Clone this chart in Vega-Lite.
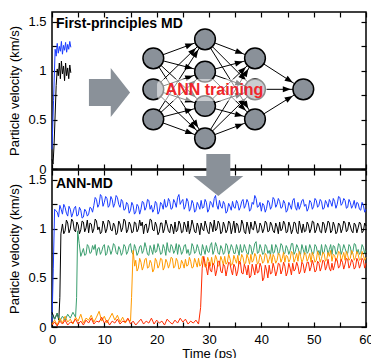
{
"$schema":"https://vega.github.io/schema/vega-lite/v6.json",
"padding":{"left":8,"top":10,"right":0,"bottom":0},
"bounds":"flush",
"spacing":1,
"config":{
 "view":{"stroke":"black","strokeWidth":1.5},
 "axis":{"labelFont":"Liberation Sans","labelFontSize":13,"titleFont":"Liberation Sans","titleFontSize":13,"titleFontWeight":"normal","labelColor":"black","titleColor":"black","tickColor":"black","tickWidth":1.2,"grid":false,"domain":false,"labelFlush":false,"labelOverlap":false},
 "text":{"font":"Liberation Sans"}
},
"datasets":{
"fp":[
{"s":"a","t":0,"v":0.2},{"s":"a","t":0.3,"v":0.7},{"s":"a","t":0.6,"v":1.22},{"s":"a","t":0.8,"v":1.15},{"s":"a","t":1.0,"v":1.28},{"s":"a","t":1.2,"v":1.18},{"s":"a","t":1.4,"v":1.25},{"s":"a","t":1.6,"v":1.2},{"s":"a","t":1.8,"v":1.3},{"s":"a","t":2.0,"v":1.17},{"s":"a","t":2.2,"v":1.26},{"s":"a","t":2.4,"v":1.21},{"s":"a","t":2.6,"v":1.29},{"s":"a","t":2.8,"v":1.19},{"s":"a","t":3.0,"v":1.27},{"s":"a","t":3.2,"v":1.22},{"s":"a","t":3.4,"v":1.3},{"s":"a","t":3.6,"v":1.24},
{"s":"b","t":0,"v":0.1},{"s":"b","t":0.2,"v":0.05},{"s":"b","t":0.4,"v":0.25},{"s":"b","t":0.6,"v":0.55},{"s":"b","t":0.8,"v":0.85},{"s":"b","t":1.0,"v":1.02},{"s":"b","t":1.2,"v":0.95},{"s":"b","t":1.4,"v":1.08},{"s":"b","t":1.6,"v":0.92},{"s":"b","t":1.8,"v":1.1},{"s":"b","t":2.0,"v":0.97},{"s":"b","t":2.2,"v":1.05},{"s":"b","t":2.4,"v":0.9},{"s":"b","t":2.6,"v":1.08},{"s":"b","t":2.8,"v":0.95},{"s":"b","t":3.0,"v":1.03},{"s":"b","t":3.2,"v":0.92},{"s":"b","t":3.4,"v":1.06},{"s":"b","t":3.6,"v":0.98}
],
"ann":[
{"s":"a","t":0,"v":0.05},{"s":"a","t":0.25,"v":0.6},{"s":"a","t":0.5,"v":1.2},{"s":"a","t":1,"v":1.17},{"s":"a","t":1.5,"v":1.24},{"s":"a","t":2,"v":1.15},{"s":"a","t":2.5,"v":1.22},{"s":"a","t":3,"v":1.13},{"s":"a","t":3.5,"v":1.2},{"s":"a","t":4,"v":1.16},{"s":"a","t":4.5,"v":1.23},{"s":"a","t":5,"v":1.14},{"s":"a","t":5.5,"v":1.19},{"s":"a","t":6,"v":1.12},{"s":"a","t":6.5,"v":1.18},{"s":"a","t":7,"v":1.15},{"s":"a","t":7.5,"v":1.21},{"s":"a","t":8,"v":1.24},{"s":"a","t":8.5,"v":1.3},{"s":"a","t":9,"v":1.25},{"s":"a","t":9.5,"v":1.33},{"s":"a","t":10,"v":1.27},{"s":"a","t":10.5,"v":1.31},{"s":"a","t":11,"v":1.24},{"s":"a","t":11.5,"v":1.3},{"s":"a","t":12,"v":1.26},{"s":"a","t":12.5,"v":1.32},{"s":"a","t":13,"v":1.22},{"s":"a","t":13.5,"v":1.28},{"s":"a","t":14,"v":1.2},{"s":"a","t":14.5,"v":1.25},{"s":"a","t":15,"v":1.19},{"s":"a","t":15.5,"v":1.24},{"s":"a","t":16,"v":1.17},{"s":"a","t":16.5,"v":1.23},{"s":"a","t":17,"v":1.2},{"s":"a","t":17.5,"v":1.27},{"s":"a","t":18,"v":1.22},{"s":"a","t":18.5,"v":1.29},{"s":"a","t":19,"v":1.24},{"s":"a","t":19.5,"v":1.2},{"s":"a","t":20,"v":1.26},{"s":"a","t":20.5,"v":1.18},{"s":"a","t":21,"v":1.25},{"s":"a","t":21.5,"v":1.3},{"s":"a","t":22,"v":1.23},{"s":"a","t":22.5,"v":1.28},{"s":"a","t":23,"v":1.21},{"s":"a","t":23.5,"v":1.27},{"s":"a","t":24,"v":1.32},{"s":"a","t":24.5,"v":1.25},{"s":"a","t":25,"v":1.3},{"s":"a","t":25.5,"v":1.23},{"s":"a","t":26,"v":1.28},{"s":"a","t":26.5,"v":1.21},{"s":"a","t":27,"v":1.26},{"s":"a","t":27.5,"v":1.19},{"s":"a","t":28,"v":1.24},{"s":"a","t":28.5,"v":1.29},{"s":"a","t":29,"v":1.22},{"s":"a","t":29.5,"v":1.27},{"s":"a","t":30,"v":1.2},{"s":"a","t":30.5,"v":1.26},{"s":"a","t":31,"v":1.31},{"s":"a","t":31.5,"v":1.24},{"s":"a","t":32,"v":1.29},{"s":"a","t":32.5,"v":1.21},{"s":"a","t":33,"v":1.25},{"s":"a","t":33.5,"v":1.18},{"s":"a","t":34,"v":1.23},{"s":"a","t":34.5,"v":1.28},{"s":"a","t":35,"v":1.21},{"s":"a","t":35.5,"v":1.26},{"s":"a","t":36,"v":1.22},{"s":"a","t":36.5,"v":1.3},{"s":"a","t":37,"v":1.24},{"s":"a","t":37.5,"v":1.27},{"s":"a","t":38,"v":1.2},{"s":"a","t":38.5,"v":1.25},{"s":"a","t":39,"v":1.31},{"s":"a","t":39.5,"v":1.23},{"s":"a","t":40,"v":1.18},{"s":"a","t":40.5,"v":1.24},{"s":"a","t":41,"v":1.21},{"s":"a","t":41.5,"v":1.27},{"s":"a","t":42,"v":1.23},{"s":"a","t":42.5,"v":1.3},{"s":"a","t":43,"v":1.25},{"s":"a","t":43.5,"v":1.28},{"s":"a","t":44,"v":1.22},{"s":"a","t":44.5,"v":1.26},{"s":"a","t":45,"v":1.19},{"s":"a","t":45.5,"v":1.24},{"s":"a","t":46,"v":1.29},{"s":"a","t":46.5,"v":1.22},{"s":"a","t":47,"v":1.27},{"s":"a","t":47.5,"v":1.24},{"s":"a","t":48,"v":1.3},{"s":"a","t":48.5,"v":1.25},{"s":"a","t":49,"v":1.21},{"s":"a","t":49.5,"v":1.27},{"s":"a","t":50,"v":1.23},{"s":"a","t":50.5,"v":1.29},{"s":"a","t":51,"v":1.24},{"s":"a","t":51.5,"v":1.28},{"s":"a","t":52,"v":1.21},{"s":"a","t":52.5,"v":1.26},{"s":"a","t":53,"v":1.3},{"s":"a","t":53.5,"v":1.23},{"s":"a","t":54,"v":1.28},{"s":"a","t":54.5,"v":1.25},{"s":"a","t":55,"v":1.32},{"s":"a","t":55.5,"v":1.26},{"s":"a","t":56,"v":1.29},{"s":"a","t":56.5,"v":1.22},{"s":"a","t":57,"v":1.27},{"s":"a","t":57.5,"v":1.24},{"s":"a","t":58,"v":1.21},{"s":"a","t":58.5,"v":1.26},{"s":"a","t":59,"v":1.19},{"s":"a","t":59.5,"v":1.24},{"s":"a","t":60,"v":1.2},
{"s":"b","t":0,"v":0.15},{"s":"b","t":0.5,"v":0.08},{"s":"b","t":1,"v":0.14},{"s":"b","t":1.3,"v":0.07},{"s":"b","t":1.5,"v":0.3},{"s":"b","t":1.7,"v":0.95},{"s":"b","t":2,"v":1.05},{"s":"b","t":2.5,"v":0.98},{"s":"b","t":3,"v":1.06},{"s":"b","t":3.5,"v":1.0},{"s":"b","t":4,"v":1.08},{"s":"b","t":4.5,"v":0.97},{"s":"b","t":5,"v":1.04},{"s":"b","t":5.5,"v":0.99},{"s":"b","t":6,"v":1.07},{"s":"b","t":6.5,"v":1.01},{"s":"b","t":7,"v":0.96},{"s":"b","t":7.5,"v":1.05},{"s":"b","t":8,"v":1.0},{"s":"b","t":8.5,"v":1.08},{"s":"b","t":9,"v":1.02},{"s":"b","t":9.5,"v":0.97},{"s":"b","t":10,"v":1.04},{"s":"b","t":10.5,"v":1.0},{"s":"b","t":11,"v":1.07},{"s":"b","t":11.5,"v":0.98},{"s":"b","t":12,"v":1.03},{"s":"b","t":12.5,"v":0.96},{"s":"b","t":13,"v":1.05},{"s":"b","t":13.5,"v":1.01},{"s":"b","t":14,"v":1.08},{"s":"b","t":14.5,"v":0.99},{"s":"b","t":15,"v":1.04},{"s":"b","t":15.5,"v":0.97},{"s":"b","t":16,"v":1.06},{"s":"b","t":16.5,"v":1.0},{"s":"b","t":17,"v":1.03},{"s":"b","t":17.5,"v":0.95},{"s":"b","t":18,"v":1.05},{"s":"b","t":18.5,"v":1.01},{"s":"b","t":19,"v":1.09},{"s":"b","t":19.5,"v":0.98},{"s":"b","t":20,"v":1.03},{"s":"b","t":20.5,"v":0.97},{"s":"b","t":21,"v":1.06},{"s":"b","t":21.5,"v":1.0},{"s":"b","t":22,"v":1.04},{"s":"b","t":22.5,"v":0.96},{"s":"b","t":23,"v":1.02},{"s":"b","t":23.5,"v":1.07},{"s":"b","t":24,"v":0.99},{"s":"b","t":24.5,"v":1.05},{"s":"b","t":25,"v":0.97},{"s":"b","t":25.5,"v":1.03},{"s":"b","t":26,"v":1.08},{"s":"b","t":26.5,"v":1.0},{"s":"b","t":27,"v":1.04},{"s":"b","t":27.5,"v":0.96},{"s":"b","t":28,"v":1.02},{"s":"b","t":28.5,"v":1.06},{"s":"b","t":29,"v":0.98},{"s":"b","t":29.5,"v":1.03},{"s":"b","t":30,"v":0.95},{"s":"b","t":30.5,"v":1.04},{"s":"b","t":31,"v":1.09},{"s":"b","t":31.5,"v":1.0},{"s":"b","t":32,"v":1.05},{"s":"b","t":32.5,"v":0.97},{"s":"b","t":33,"v":1.03},{"s":"b","t":33.5,"v":0.99},{"s":"b","t":34,"v":1.06},{"s":"b","t":34.5,"v":1.01},{"s":"b","t":35,"v":0.96},{"s":"b","t":35.5,"v":1.04},{"s":"b","t":36,"v":0.98},{"s":"b","t":36.5,"v":1.05},{"s":"b","t":37,"v":0.95},{"s":"b","t":37.5,"v":1.02},{"s":"b","t":38,"v":1.07},{"s":"b","t":38.5,"v":0.99},{"s":"b","t":39,"v":1.04},{"s":"b","t":39.5,"v":0.97},{"s":"b","t":40,"v":1.03},{"s":"b","t":40.5,"v":1.0},{"s":"b","t":41,"v":1.06},{"s":"b","t":41.5,"v":0.98},{"s":"b","t":42,"v":1.04},{"s":"b","t":42.5,"v":0.96},{"s":"b","t":43,"v":1.02},{"s":"b","t":43.5,"v":1.07},{"s":"b","t":44,"v":1.0},{"s":"b","t":44.5,"v":1.05},{"s":"b","t":45,"v":0.97},{"s":"b","t":45.5,"v":1.03},{"s":"b","t":46,"v":0.99},{"s":"b","t":46.5,"v":1.06},{"s":"b","t":47,"v":0.95},{"s":"b","t":47.5,"v":1.02},{"s":"b","t":48,"v":1.05},{"s":"b","t":48.5,"v":0.98},{"s":"b","t":49,"v":1.04},{"s":"b","t":49.5,"v":1.0},{"s":"b","t":50,"v":1.07},{"s":"b","t":50.5,"v":0.99},{"s":"b","t":51,"v":1.03},{"s":"b","t":51.5,"v":0.96},{"s":"b","t":52,"v":1.05},{"s":"b","t":52.5,"v":1.01},{"s":"b","t":53,"v":1.06},{"s":"b","t":53.5,"v":0.98},{"s":"b","t":54,"v":1.03},{"s":"b","t":54.5,"v":0.97},{"s":"b","t":55,"v":1.04},{"s":"b","t":55.5,"v":1.0},{"s":"b","t":56,"v":1.06},{"s":"b","t":56.5,"v":0.99},{"s":"b","t":57,"v":1.03},{"s":"b","t":57.5,"v":0.96},{"s":"b","t":58,"v":1.04},{"s":"b","t":58.5,"v":1.01},{"s":"b","t":59,"v":1.05},{"s":"b","t":59.5,"v":0.98},{"s":"b","t":60,"v":1.03},
{"s":"c","t":0,"v":0.12},{"s":"c","t":0.5,"v":0.08},{"s":"c","t":1,"v":0.14},{"s":"c","t":1.5,"v":0.06},{"s":"c","t":2,"v":0.11},{"s":"c","t":2.5,"v":0.07},{"s":"c","t":3,"v":0.13},{"s":"c","t":3.5,"v":0.09},{"s":"c","t":4,"v":0.15},{"s":"c","t":4.5,"v":0.1},{"s":"c","t":4.7,"v":0.3},{"s":"c","t":4.9,"v":0.98},{"s":"c","t":5.2,"v":0.85},{"s":"c","t":5.5,"v":0.72},{"s":"c","t":6,"v":0.8},{"s":"c","t":6.5,"v":0.74},{"s":"c","t":7,"v":0.82},{"s":"c","t":7.5,"v":0.76},{"s":"c","t":8,"v":0.79},{"s":"c","t":8.5,"v":0.73},{"s":"c","t":9,"v":0.81},{"s":"c","t":9.5,"v":0.77},{"s":"c","t":10,"v":0.84},{"s":"c","t":10.5,"v":0.75},{"s":"c","t":11,"v":0.8},{"s":"c","t":11.5,"v":0.78},{"s":"c","t":12,"v":0.83},{"s":"c","t":12.5,"v":0.74},{"s":"c","t":13,"v":0.79},{"s":"c","t":13.5,"v":0.76},{"s":"c","t":14,"v":0.82},{"s":"c","t":14.5,"v":0.77},{"s":"c","t":15,"v":0.85},{"s":"c","t":15.5,"v":0.74},{"s":"c","t":16,"v":0.8},{"s":"c","t":16.5,"v":0.76},{"s":"c","t":17,"v":0.83},{"s":"c","t":17.5,"v":0.78},{"s":"c","t":18,"v":0.81},{"s":"c","t":18.5,"v":0.73},{"s":"c","t":19,"v":0.79},{"s":"c","t":19.5,"v":0.84},{"s":"c","t":20,"v":0.77},{"s":"c","t":20.5,"v":0.81},{"s":"c","t":21,"v":0.75},{"s":"c","t":21.5,"v":0.8},{"s":"c","t":22,"v":0.86},{"s":"c","t":22.5,"v":0.76},{"s":"c","t":23,"v":0.82},{"s":"c","t":23.5,"v":0.78},{"s":"c","t":24,"v":0.74},{"s":"c","t":24.5,"v":0.81},{"s":"c","t":25,"v":0.77},{"s":"c","t":25.5,"v":0.84},{"s":"c","t":26,"v":0.79},{"s":"c","t":26.5,"v":0.75},{"s":"c","t":27,"v":0.82},{"s":"c","t":27.5,"v":0.77},{"s":"c","t":28,"v":0.8},{"s":"c","t":28.5,"v":0.73},{"s":"c","t":29,"v":0.79},{"s":"c","t":29.5,"v":0.83},{"s":"c","t":30,"v":0.76},{"s":"c","t":30.5,"v":0.86},{"s":"c","t":31,"v":0.78},{"s":"c","t":31.5,"v":0.82},{"s":"c","t":32,"v":0.74},{"s":"c","t":32.5,"v":0.8},{"s":"c","t":33,"v":0.76},{"s":"c","t":33.5,"v":0.83},{"s":"c","t":34,"v":0.78},{"s":"c","t":34.5,"v":0.81},{"s":"c","t":35,"v":0.75},{"s":"c","t":35.5,"v":0.79},{"s":"c","t":36,"v":0.84},{"s":"c","t":36.5,"v":0.77},{"s":"c","t":37,"v":0.8},{"s":"c","t":37.5,"v":0.74},{"s":"c","t":38,"v":0.82},{"s":"c","t":38.5,"v":0.78},{"s":"c","t":39,"v":0.87},{"s":"c","t":39.5,"v":0.76},{"s":"c","t":40,"v":0.8},{"s":"c","t":40.5,"v":0.75},{"s":"c","t":41,"v":0.82},{"s":"c","t":41.5,"v":0.78},{"s":"c","t":42,"v":0.84},{"s":"c","t":42.5,"v":0.76},{"s":"c","t":43,"v":0.81},{"s":"c","t":43.5,"v":0.77},{"s":"c","t":44,"v":0.83},{"s":"c","t":44.5,"v":0.75},{"s":"c","t":45,"v":0.8},{"s":"c","t":45.5,"v":0.78},{"s":"c","t":46,"v":0.85},{"s":"c","t":46.5,"v":0.77},{"s":"c","t":47,"v":0.81},{"s":"c","t":47.5,"v":0.74},{"s":"c","t":48,"v":0.79},{"s":"c","t":48.5,"v":0.83},{"s":"c","t":49,"v":0.77},{"s":"c","t":49.5,"v":0.8},{"s":"c","t":50,"v":0.75},{"s":"c","t":50.5,"v":0.82},{"s":"c","t":51,"v":0.78},{"s":"c","t":51.5,"v":0.84},{"s":"c","t":52,"v":0.76},{"s":"c","t":52.5,"v":0.81},{"s":"c","t":53,"v":0.79},{"s":"c","t":53.5,"v":0.74},{"s":"c","t":54,"v":0.82},{"s":"c","t":54.5,"v":0.77},{"s":"c","t":55,"v":0.83},{"s":"c","t":55.5,"v":0.78},{"s":"c","t":56,"v":0.8},{"s":"c","t":56.5,"v":0.75},{"s":"c","t":57,"v":0.82},{"s":"c","t":57.5,"v":0.77},{"s":"c","t":58,"v":0.84},{"s":"c","t":58.5,"v":0.79},{"s":"c","t":59,"v":0.76},{"s":"c","t":59.5,"v":0.81},{"s":"c","t":60,"v":0.78},
{"s":"d","t":0,"v":0.03},{"s":"d","t":0.5,"v":0.07},{"s":"d","t":1,"v":0.02},{"s":"d","t":1.5,"v":0.09},{"s":"d","t":2,"v":0.04},{"s":"d","t":2.5,"v":0.11},{"s":"d","t":3,"v":0.05},{"s":"d","t":3.5,"v":0.08},{"s":"d","t":4,"v":0.03},{"s":"d","t":4.5,"v":0.1},{"s":"d","t":5,"v":0.06},{"s":"d","t":5.5,"v":0.13},{"s":"d","t":6,"v":0.04},{"s":"d","t":6.5,"v":0.09},{"s":"d","t":7,"v":0.07},{"s":"d","t":7.5,"v":0.12},{"s":"d","t":8,"v":0.05},{"s":"d","t":8.5,"v":0.1},{"s":"d","t":9,"v":0.16},{"s":"d","t":9.5,"v":0.06},{"s":"d","t":10,"v":0.11},{"s":"d","t":10.5,"v":0.04},{"s":"d","t":11,"v":0.09},{"s":"d","t":11.5,"v":0.14},{"s":"d","t":12,"v":0.07},{"s":"d","t":12.5,"v":0.12},{"s":"d","t":13,"v":0.05},{"s":"d","t":13.5,"v":0.1},{"s":"d","t":14,"v":0.04},{"s":"d","t":14.5,"v":0.08},{"s":"d","t":15,"v":0.06},{"s":"d","t":15.2,"v":0.3},{"s":"d","t":15.5,"v":0.78},{"s":"d","t":15.8,"v":0.62},{"s":"d","t":16,"v":0.68},{"s":"d","t":16.5,"v":0.6},{"s":"d","t":17,"v":0.66},{"s":"d","t":17.5,"v":0.62},{"s":"d","t":18,"v":0.7},{"s":"d","t":18.5,"v":0.61},{"s":"d","t":19,"v":0.65},{"s":"d","t":19.5,"v":0.59},{"s":"d","t":20,"v":0.67},{"s":"d","t":20.5,"v":0.63},{"s":"d","t":21,"v":0.69},{"s":"d","t":21.5,"v":0.61},{"s":"d","t":22,"v":0.66},{"s":"d","t":22.5,"v":0.64},{"s":"d","t":23,"v":0.7},{"s":"d","t":23.5,"v":0.62},{"s":"d","t":24,"v":0.67},{"s":"d","t":24.5,"v":0.6},{"s":"d","t":25,"v":0.65},{"s":"d","t":25.5,"v":0.69},{"s":"d","t":26,"v":0.63},{"s":"d","t":26.5,"v":0.67},{"s":"d","t":27,"v":0.61},{"s":"d","t":27.5,"v":0.66},{"s":"d","t":28,"v":0.7},{"s":"d","t":28.5,"v":0.64},{"s":"d","t":29,"v":0.68},{"s":"d","t":29.5,"v":0.62},{"s":"d","t":30,"v":0.67},{"s":"d","t":30.5,"v":0.71},{"s":"d","t":31,"v":0.65},{"s":"d","t":31.5,"v":0.69},{"s":"d","t":32,"v":0.63},{"s":"d","t":32.5,"v":0.68},{"s":"d","t":33,"v":0.72},{"s":"d","t":33.5,"v":0.66},{"s":"d","t":34,"v":0.7},{"s":"d","t":34.5,"v":0.64},{"s":"d","t":35,"v":0.69},{"s":"d","t":35.5,"v":0.73},{"s":"d","t":36,"v":0.67},{"s":"d","t":36.5,"v":0.71},{"s":"d","t":37,"v":0.65},{"s":"d","t":37.5,"v":0.7},{"s":"d","t":38,"v":0.74},{"s":"d","t":38.5,"v":0.68},{"s":"d","t":39,"v":0.72},{"s":"d","t":39.5,"v":0.66},{"s":"d","t":40,"v":0.71},{"s":"d","t":40.5,"v":0.67},{"s":"d","t":41,"v":0.73},{"s":"d","t":41.5,"v":0.69},{"s":"d","t":42,"v":0.65},{"s":"d","t":42.5,"v":0.71},{"s":"d","t":43,"v":0.68},{"s":"d","t":43.5,"v":0.74},{"s":"d","t":44,"v":0.7},{"s":"d","t":44.5,"v":0.66},{"s":"d","t":45,"v":0.72},{"s":"d","t":45.5,"v":0.69},{"s":"d","t":46,"v":0.75},{"s":"d","t":46.5,"v":0.7},{"s":"d","t":47,"v":0.67},{"s":"d","t":47.5,"v":0.72},{"s":"d","t":48,"v":0.69},{"s":"d","t":48.5,"v":0.74},{"s":"d","t":49,"v":0.7},{"s":"d","t":49.5,"v":0.66},{"s":"d","t":50,"v":0.72},{"s":"d","t":50.5,"v":0.68},{"s":"d","t":51,"v":0.73},{"s":"d","t":51.5,"v":0.7},{"s":"d","t":52,"v":0.75},{"s":"d","t":52.5,"v":0.69},{"s":"d","t":53,"v":0.72},{"s":"d","t":53.5,"v":0.67},{"s":"d","t":54,"v":0.73},{"s":"d","t":54.5,"v":0.7},{"s":"d","t":55,"v":0.76},{"s":"d","t":55.5,"v":0.71},{"s":"d","t":56,"v":0.68},{"s":"d","t":56.5,"v":0.73},{"s":"d","t":57,"v":0.7},{"s":"d","t":57.5,"v":0.75},{"s":"d","t":58,"v":0.71},{"s":"d","t":58.5,"v":0.74},{"s":"d","t":59,"v":0.69},{"s":"d","t":59.5,"v":0.73},{"s":"d","t":60,"v":0.71},
{"s":"e","t":0,"v":0.02},{"s":"e","t":0.5,"v":0.05},{"s":"e","t":1,"v":0.01},{"s":"e","t":1.5,"v":0.06},{"s":"e","t":2,"v":0.03},{"s":"e","t":2.5,"v":0.07},{"s":"e","t":3,"v":0.02},{"s":"e","t":3.5,"v":0.05},{"s":"e","t":4,"v":0.04},{"s":"e","t":4.5,"v":0.08},{"s":"e","t":5,"v":0.03},{"s":"e","t":5.5,"v":0.06},{"s":"e","t":6,"v":0.02},{"s":"e","t":6.5,"v":0.07},{"s":"e","t":7,"v":0.04},{"s":"e","t":7.5,"v":0.09},{"s":"e","t":8,"v":0.03},{"s":"e","t":8.5,"v":0.06},{"s":"e","t":9,"v":0.05},{"s":"e","t":9.5,"v":0.1},{"s":"e","t":10,"v":0.04},{"s":"e","t":10.5,"v":0.07},{"s":"e","t":11,"v":0.02},{"s":"e","t":11.5,"v":0.06},{"s":"e","t":12,"v":0.04},{"s":"e","t":12.5,"v":0.08},{"s":"e","t":13,"v":0.03},{"s":"e","t":13.5,"v":0.06},{"s":"e","t":14,"v":0.05},{"s":"e","t":14.5,"v":0.09},{"s":"e","t":15,"v":0.03},{"s":"e","t":15.5,"v":0.06},{"s":"e","t":16,"v":0.02},{"s":"e","t":16.5,"v":0.05},{"s":"e","t":17,"v":0.08},{"s":"e","t":17.5,"v":0.03},{"s":"e","t":18,"v":0.06},{"s":"e","t":18.5,"v":0.04},{"s":"e","t":19,"v":0.09},{"s":"e","t":19.5,"v":0.03},{"s":"e","t":20,"v":0.07},{"s":"e","t":20.5,"v":0.04},{"s":"e","t":21,"v":0.06},{"s":"e","t":21.5,"v":0.02},{"s":"e","t":22,"v":0.08},{"s":"e","t":22.5,"v":0.05},{"s":"e","t":23,"v":0.03},{"s":"e","t":23.5,"v":0.07},{"s":"e","t":24,"v":0.04},{"s":"e","t":24.5,"v":0.09},{"s":"e","t":25,"v":0.05},{"s":"e","t":25.5,"v":0.08},{"s":"e","t":26,"v":0.03},{"s":"e","t":26.5,"v":0.06},{"s":"e","t":27,"v":0.04},{"s":"e","t":27.5,"v":0.07},{"s":"e","t":28,"v":0.03},{"s":"e","t":28.4,"v":0.2},{"s":"e","t":28.7,"v":0.6},{"s":"e","t":29,"v":0.72},{"s":"e","t":29.5,"v":0.6},{"s":"e","t":30,"v":0.66},{"s":"e","t":30.5,"v":0.56},{"s":"e","t":31,"v":0.63},{"s":"e","t":31.5,"v":0.58},{"s":"e","t":32,"v":0.67},{"s":"e","t":32.5,"v":0.55},{"s":"e","t":33,"v":0.62},{"s":"e","t":33.5,"v":0.59},{"s":"e","t":34,"v":0.65},{"s":"e","t":34.5,"v":0.53},{"s":"e","t":35,"v":0.61},{"s":"e","t":35.5,"v":0.57},{"s":"e","t":36,"v":0.66},{"s":"e","t":36.5,"v":0.54},{"s":"e","t":37,"v":0.6},{"s":"e","t":37.5,"v":0.63},{"s":"e","t":38,"v":0.52},{"s":"e","t":38.5,"v":0.59},{"s":"e","t":39,"v":0.64},{"s":"e","t":39.5,"v":0.56},{"s":"e","t":40,"v":0.61},{"s":"e","t":40.5,"v":0.5},{"s":"e","t":41,"v":0.58},{"s":"e","t":41.5,"v":0.63},{"s":"e","t":42,"v":0.55},{"s":"e","t":42.5,"v":0.6},{"s":"e","t":43,"v":0.57},{"s":"e","t":43.5,"v":0.64},{"s":"e","t":44,"v":0.58},{"s":"e","t":44.5,"v":0.62},{"s":"e","t":45,"v":0.56},{"s":"e","t":45.5,"v":0.6},{"s":"e","t":46,"v":0.65},{"s":"e","t":46.5,"v":0.59},{"s":"e","t":47,"v":0.62},{"s":"e","t":47.5,"v":0.57},{"s":"e","t":48,"v":0.64},{"s":"e","t":48.5,"v":0.6},{"s":"e","t":49,"v":0.66},{"s":"e","t":49.5,"v":0.61},{"s":"e","t":50,"v":0.63},{"s":"e","t":50.5,"v":0.58},{"s":"e","t":51,"v":0.65},{"s":"e","t":51.5,"v":0.61},{"s":"e","t":52,"v":0.67},{"s":"e","t":52.5,"v":0.62},{"s":"e","t":53,"v":0.6},{"s":"e","t":53.5,"v":0.65},{"s":"e","t":54,"v":0.63},{"s":"e","t":54.5,"v":0.68},{"s":"e","t":55,"v":0.62},{"s":"e","t":55.5,"v":0.66},{"s":"e","t":56,"v":0.64},{"s":"e","t":56.5,"v":0.69},{"s":"e","t":57,"v":0.63},{"s":"e","t":57.5,"v":0.66},{"s":"e","t":58,"v":0.61},{"s":"e","t":58.5,"v":0.67},{"s":"e","t":59,"v":0.64},{"s":"e","t":59.5,"v":0.68},{"s":"e","t":60,"v":0.65},
{"s":"a","t":1.25,"v":1.12},{"s":"a","t":1.75,"v":1.2},{"s":"a","t":2.25,"v":1.25},{"s":"a","t":2.75,"v":1.16},{"s":"a","t":3.25,"v":1.23},{"s":"a","t":3.75,"v":1.12},{"s":"a","t":4.25,"v":1.21},{"s":"a","t":4.75,"v":1.13},{"s":"a","t":5.25,"v":1.22},{"s":"a","t":5.75,"v":1.11},{"s":"a","t":6.25,"v":1.2},{"s":"a","t":6.75,"v":1.13},{"s":"a","t":7.25,"v":1.22},{"s":"a","t":7.75,"v":1.17},{"s":"a","t":8.25,"v":1.32},{"s":"a","t":8.75,"v":1.22},{"s":"a","t":9.25,"v":1.35},{"s":"a","t":9.75,"v":1.23},{"s":"a","t":10.25,"v":1.33},{"s":"a","t":10.75,"v":1.22},{"s":"a","t":11.25,"v":1.33},{"s":"a","t":11.75,"v":1.22},{"s":"a","t":12.25,"v":1.34},{"s":"a","t":12.75,"v":1.25},{"s":"a","t":13.25,"v":1.3},{"s":"a","t":13.75,"v":1.19},{"s":"a","t":14.25,"v":1.27},{"s":"a","t":14.75,"v":1.16},{"s":"a","t":15.25,"v":1.27},{"s":"a","t":15.75,"v":1.15},{"s":"a","t":16.25,"v":1.25},{"s":"a","t":16.75,"v":1.15},{"s":"a","t":17.25,"v":1.28},{"s":"a","t":17.75,"v":1.19},{"s":"a","t":18.25,"v":1.3},{"s":"a","t":18.75,"v":1.2},{"s":"a","t":19.25,"v":1.17},{"s":"a","t":19.75,"v":1.28},{"s":"a","t":20.25,"v":1.15},{"s":"a","t":20.75,"v":1.27},{"s":"a","t":21.25,"v":1.2},{"s":"a","t":21.75,"v":1.22},{"s":"a","t":22.25,"v":1.31},{"s":"a","t":22.75,"v":1.2},{"s":"a","t":23.25,"v":1.3},{"s":"a","t":23.75,"v":1.22},{"s":"a","t":24.25,"v":1.35},{"s":"a","t":24.75,"v":1.28},{"s":"a","t":25.25,"v":1.2},{"s":"a","t":25.75,"v":1.31},{"s":"a","t":26.25,"v":1.18},{"s":"a","t":26.75,"v":1.29},{"s":"a","t":27.25,"v":1.17},{"s":"a","t":27.75,"v":1.27},{"s":"a","t":28.25,"v":1.2},{"s":"a","t":28.75,"v":1.21},{"s":"a","t":29.25,"v":1.3},{"s":"a","t":29.75,"v":1.17},{"s":"a","t":30.25,"v":1.28},{"s":"a","t":30.75,"v":1.22},{"s":"a","t":31.25,"v":1.34},{"s":"a","t":31.75,"v":1.2},{"s":"a","t":32.25,"v":1.23},{"s":"a","t":32.75,"v":1.28},{"s":"a","t":33.25,"v":1.16},{"s":"a","t":33.75,"v":1.26},{"s":"a","t":34.25,"v":1.19},{"s":"a","t":34.75,"v":1.22},{"s":"a","t":35.25,"v":1.29},{"s":"a","t":35.75,"v":1.19},{"s":"a","t":36.25,"v":1.28},{"s":"a","t":36.75,"v":1.21},{"s":"a","t":37.25,"v":1.3},{"s":"a","t":37.75,"v":1.18},{"s":"a","t":38.25,"v":1.27},{"s":"a","t":38.75,"v":1.34},{"s":"a","t":39.25,"v":1.22},{"s":"a","t":39.75,"v":1.27},{"s":"a","t":40.25,"v":1.26},{"s":"a","t":40.75,"v":1.17},{"s":"a","t":41.25,"v":1.29},{"s":"a","t":41.75,"v":1.2},{"s":"a","t":42.25,"v":1.32},{"s":"a","t":42.75,"v":1.22},{"s":"a","t":43.25,"v":1.31},{"s":"a","t":43.75,"v":1.21},{"s":"a","t":44.25,"v":1.29},{"s":"a","t":44.75,"v":1.17},{"s":"a","t":45.25,"v":1.27},{"s":"a","t":45.75,"v":1.2},{"s":"a","t":46.25,"v":1.31},{"s":"a","t":46.75,"v":1.19},{"s":"a","t":47.25,"v":1.2},{"s":"a","t":47.75,"v":1.29},{"s":"a","t":48.25,"v":1.23},{"s":"a","t":48.75,"v":1.18},{"s":"a","t":49.25,"v":1.29},{"s":"a","t":49.75,"v":1.2},{"s":"a","t":50.25,"v":1.31},{"s":"a","t":50.75,"v":1.22},{"s":"a","t":51.25,"v":1.3},{"s":"a","t":51.75,"v":1.2},{"s":"a","t":52.25,"v":1.29},{"s":"a","t":52.75,"v":1.22},{"s":"a","t":53.25,"v":1.27},{"s":"a","t":53.75,"v":1.31},{"s":"a","t":54.25,"v":1.21},{"s":"a","t":54.75,"v":1.33},{"s":"a","t":55.25,"v":1.24},{"s":"a","t":55.75,"v":1.31},{"s":"a","t":56.25,"v":1.21},{"s":"a","t":56.75,"v":1.3},{"s":"a","t":57.25,"v":1.21},{"s":"a","t":57.75,"v":1.29},{"s":"a","t":58.25,"v":1.27},{"s":"a","t":58.75,"v":1.2},{"s":"a","t":59.25,"v":1.27},{"s":"a","t":59.75,"v":1.17},
{"s":"b","t":2.25,"v":0.95},{"s":"b","t":2.75,"v":1.09},{"s":"b","t":3.25,"v":0.96},{"s":"b","t":3.75,"v":1.1},{"s":"b","t":4.25,"v":0.99},{"s":"b","t":4.75,"v":1.07},{"s":"b","t":5.25,"v":0.95},{"s":"b","t":5.75,"v":1.08},{"s":"b","t":6.25,"v":0.97},{"s":"b","t":6.75,"v":1.09},{"s":"b","t":7.25,"v":1.06},{"s":"b","t":7.75,"v":0.96},{"s":"b","t":8.25,"v":1.1},{"s":"b","t":8.75,"v":0.99},{"s":"b","t":9.25,"v":0.95},{"s":"b","t":9.75,"v":1.08},{"s":"b","t":10.25,"v":0.96},{"s":"b","t":10.75,"v":1.09},{"s":"b","t":11.25,"v":0.99},{"s":"b","t":11.75,"v":1.06},{"s":"b","t":12.25,"v":0.94},{"s":"b","t":12.75,"v":1.08},{"s":"b","t":13.25,"v":0.97},{"s":"b","t":13.75,"v":1.1},{"s":"b","t":14.25,"v":0.96},{"s":"b","t":14.75,"v":1.07},{"s":"b","t":15.25,"v":0.96},{"s":"b","t":15.75,"v":1.07},{"s":"b","t":16.25,"v":0.97},{"s":"b","t":16.75,"v":1.09},{"s":"b","t":17.25,"v":1.07},{"s":"b","t":17.75,"v":1.04},{"s":"b","t":18.25,"v":0.96},{"s":"b","t":18.75,"v":1.1},{"s":"b","t":19.25,"v":0.99},{"s":"b","t":19.75,"v":1.07},{"s":"b","t":20.25,"v":0.94},{"s":"b","t":20.75,"v":1.06},{"s":"b","t":21.25,"v":0.96},{"s":"b","t":21.75,"v":1.09},{"s":"b","t":22.25,"v":0.98},{"s":"b","t":22.75,"v":1.05},{"s":"b","t":23.25,"v":0.95},{"s":"b","t":23.75,"v":0.97},{"s":"b","t":24.25,"v":1.08},{"s":"b","t":24.75,"v":0.96},{"s":"b","t":25.25,"v":1.07},{"s":"b","t":25.75,"v":0.97},{"s":"b","t":26.25,"v":0.95},{"s":"b","t":26.75,"v":1.09},{"s":"b","t":27.25,"v":0.97},{"s":"b","t":27.75,"v":1.06},{"s":"b","t":28.25,"v":0.94},{"s":"b","t":28.75,"v":1.0},{"s":"b","t":29.25,"v":1.08},{"s":"b","t":29.75,"v":0.97},{"s":"b","t":30.25,"v":1.07},{"s":"b","t":30.75,"v":0.97},{"s":"b","t":31.25,"v":0.98},{"s":"b","t":31.75,"v":1.08},{"s":"b","t":32.25,"v":0.95},{"s":"b","t":32.75,"v":1.07},{"s":"b","t":33.25,"v":0.96},{"s":"b","t":33.75,"v":1.08},{"s":"b","t":34.25,"v":0.95},{"s":"b","t":34.75,"v":1.08},{"s":"b","t":35.25,"v":1.06},{"s":"b","t":35.75,"v":0.96},{"s":"b","t":36.25,"v":1.09},{"s":"b","t":36.75,"v":0.97},{"s":"b","t":37.25,"v":1.07},{"s":"b","t":37.75,"v":0.95},{"s":"b","t":38.25,"v":1.0},{"s":"b","t":38.75,"v":1.08},{"s":"b","t":39.25,"v":0.96},{"s":"b","t":39.75,"v":1.06},{"s":"b","t":40.25,"v":0.96},{"s":"b","t":40.75,"v":1.08},{"s":"b","t":41.25,"v":0.97},{"s":"b","t":41.75,"v":1.07},{"s":"b","t":42.25,"v":0.98},{"s":"b","t":42.75,"v":1.06},{"s":"b","t":43.25,"v":0.95},{"s":"b","t":43.75,"v":0.98},{"s":"b","t":44.25,"v":1.08},{"s":"b","t":44.75,"v":0.96},{"s":"b","t":45.25,"v":1.07},{"s":"b","t":45.75,"v":0.95},{"s":"b","t":46.25,"v":1.07},{"s":"b","t":46.75,"v":0.97},{"s":"b","t":47.25,"v":1.08},{"s":"b","t":47.75,"v":0.96},{"s":"b","t":48.25,"v":0.97},{"s":"b","t":48.75,"v":1.07},{"s":"b","t":49.25,"v":0.96},{"s":"b","t":49.75,"v":1.08},{"s":"b","t":50.25,"v":0.96},{"s":"b","t":50.75,"v":1.06},{"s":"b","t":51.25,"v":0.97},{"s":"b","t":51.75,"v":1.07},{"s":"b","t":52.25,"v":0.96},{"s":"b","t":52.75,"v":1.08},{"s":"b","t":53.25,"v":0.96},{"s":"b","t":53.75,"v":1.07},{"s":"b","t":54.25,"v":0.95},{"s":"b","t":54.75,"v":1.06},{"s":"b","t":55.25,"v":0.96},{"s":"b","t":55.75,"v":1.08},{"s":"b","t":56.25,"v":0.97},{"s":"b","t":56.75,"v":1.07},{"s":"b","t":57.25,"v":0.98},{"s":"b","t":57.75,"v":1.06},{"s":"b","t":58.25,"v":0.96},{"s":"b","t":58.75,"v":1.07},{"s":"b","t":59.25,"v":0.96},{"s":"b","t":59.75,"v":1.06},
{"s":"c","t":6.25,"v":0.73},{"s":"c","t":6.75,"v":0.84},{"s":"c","t":7.25,"v":0.75},{"s":"c","t":7.75,"v":0.83},{"s":"c","t":8.25,"v":0.84},{"s":"c","t":8.75,"v":0.8},{"s":"c","t":9.25,"v":0.74},{"s":"c","t":9.75,"v":0.82},{"s":"c","t":10.25,"v":0.73},{"s":"c","t":10.75,"v":0.83},{"s":"c","t":11.25,"v":0.74},{"s":"c","t":11.75,"v":0.85},{"s":"c","t":12.25,"v":0.76},{"s":"c","t":12.75,"v":0.82},{"s":"c","t":13.25,"v":0.73},{"s":"c","t":13.75,"v":0.84},{"s":"c","t":14.25,"v":0.74},{"s":"c","t":14.75,"v":0.83},{"s":"c","t":15.25,"v":0.76},{"s":"c","t":15.75,"v":0.84},{"s":"c","t":16.25,"v":0.73},{"s":"c","t":16.75,"v":0.82},{"s":"c","t":17.25,"v":0.75},{"s":"c","t":17.75,"v":0.86},{"s":"c","t":18.25,"v":0.74},{"s":"c","t":18.75,"v":0.83},{"s":"c","t":19.25,"v":0.74},{"s":"c","t":19.75,"v":0.76},{"s":"c","t":20.25,"v":0.85},{"s":"c","t":20.75,"v":0.74},{"s":"c","t":21.25,"v":0.84},{"s":"c","t":21.75,"v":0.73},{"s":"c","t":22.25,"v":0.78},{"s":"c","t":22.75,"v":0.84},{"s":"c","t":23.25,"v":0.75},{"s":"c","t":23.75,"v":0.85},{"s":"c","t":24.25,"v":0.84},{"s":"c","t":24.75,"v":0.74},{"s":"c","t":25.25,"v":0.83},{"s":"c","t":25.75,"v":0.75},{"s":"c","t":26.25,"v":0.73},{"s":"c","t":26.75,"v":0.85},{"s":"c","t":27.25,"v":0.75},{"s":"c","t":27.75,"v":0.84},{"s":"c","t":28.25,"v":0.74},{"s":"c","t":28.75,"v":0.84},{"s":"c","t":29.25,"v":0.74},{"s":"c","t":29.75,"v":0.77},{"s":"c","t":30.25,"v":0.83},{"s":"c","t":30.75,"v":0.74},{"s":"c","t":31.25,"v":0.86},{"s":"c","t":31.75,"v":0.75},{"s":"c","t":32.25,"v":0.83},{"s":"c","t":32.75,"v":0.74},{"s":"c","t":33.25,"v":0.85},{"s":"c","t":33.75,"v":0.74},{"s":"c","t":34.25,"v":0.84},{"s":"c","t":34.75,"v":0.75},{"s":"c","t":35.25,"v":0.84},{"s":"c","t":35.75,"v":0.73},{"s":"c","t":36.25,"v":0.76},{"s":"c","t":36.75,"v":0.84},{"s":"c","t":37.25,"v":0.75},{"s":"c","t":37.75,"v":0.84},{"s":"c","t":38.25,"v":0.74},{"s":"c","t":38.75,"v":0.85},{"s":"c","t":39.25,"v":0.75},{"s":"c","t":39.75,"v":0.84},{"s":"c","t":40.25,"v":0.74},{"s":"c","t":40.75,"v":0.84},{"s":"c","t":41.25,"v":0.75},{"s":"c","t":41.75,"v":0.73},{"s":"c","t":42.25,"v":0.75},{"s":"c","t":42.75,"v":0.84},{"s":"c","t":43.25,"v":0.74},{"s":"c","t":43.75,"v":0.85},{"s":"c","t":44.25,"v":0.75},{"s":"c","t":44.75,"v":0.83},{"s":"c","t":45.25,"v":0.74},{"s":"c","t":45.75,"v":0.85},{"s":"c","t":46.25,"v":0.74},{"s":"c","t":46.75,"v":0.84},{"s":"c","t":47.25,"v":0.76},{"s":"c","t":47.75,"v":0.84},{"s":"c","t":48.25,"v":0.74},{"s":"c","t":48.75,"v":0.75},{"s":"c","t":49.25,"v":0.84},{"s":"c","t":49.75,"v":0.74},{"s":"c","t":50.25,"v":0.84},{"s":"c","t":50.75,"v":0.75},{"s":"c","t":51.25,"v":0.73},{"s":"c","t":51.75,"v":0.75},{"s":"c","t":52.25,"v":0.84},{"s":"c","t":52.75,"v":0.74},{"s":"c","t":53.25,"v":0.84},{"s":"c","t":53.75,"v":0.83},{"s":"c","t":54.25,"v":0.74},{"s":"c","t":54.75,"v":0.85},{"s":"c","t":55.25,"v":0.74},{"s":"c","t":55.75,"v":0.84},{"s":"c","t":56.25,"v":0.76},{"s":"c","t":56.75,"v":0.84},{"s":"c","t":57.25,"v":0.74},{"s":"c","t":57.75,"v":0.85},{"s":"c","t":58.25,"v":0.75},{"s":"c","t":58.75,"v":0.74},{"s":"c","t":59.25,"v":0.84},{"s":"c","t":59.75,"v":0.75},
{"s":"d","t":16.25,"v":0.57},{"s":"d","t":16.75,"v":0.7},{"s":"d","t":17.25,"v":0.58},{"s":"d","t":17.75,"v":0.69},{"s":"d","t":18.25,"v":0.6},{"s":"d","t":18.75,"v":0.68},{"s":"d","t":19.25,"v":0.56},{"s":"d","t":19.75,"v":0.7},{"s":"d","t":20.25,"v":0.6},{"s":"d","t":20.75,"v":0.7},{"s":"d","t":21.25,"v":0.58},{"s":"d","t":21.75,"v":0.69},{"s":"d","t":22.25,"v":0.6},{"s":"d","t":22.75,"v":0.71},{"s":"d","t":23.25,"v":0.6},{"s":"d","t":23.75,"v":0.7},{"s":"d","t":24.25,"v":0.59},{"s":"d","t":24.75,"v":0.68},{"s":"d","t":25.25,"v":0.6},{"s":"d","t":25.75,"v":0.62},{"s":"d","t":26.25,"v":0.71},{"s":"d","t":26.75,"v":0.6},{"s":"d","t":27.25,"v":0.7},{"s":"d","t":27.75,"v":0.61},{"s":"d","t":28.25,"v":0.62},{"s":"d","t":28.75,"v":0.72},{"s":"d","t":29.25,"v":0.61},{"s":"d","t":29.75,"v":0.71},{"s":"d","t":30.25,"v":0.62},{"s":"d","t":30.75,"v":0.63},{"s":"d","t":31.25,"v":0.73},{"s":"d","t":31.75,"v":0.62},{"s":"d","t":32.25,"v":0.72},{"s":"d","t":32.75,"v":0.63},{"s":"d","t":33.25,"v":0.64},{"s":"d","t":33.75,"v":0.74},{"s":"d","t":34.25,"v":0.63},{"s":"d","t":34.75,"v":0.73},{"s":"d","t":35.25,"v":0.65},{"s":"d","t":35.75,"v":0.64},{"s":"d","t":36.25,"v":0.74},{"s":"d","t":36.75,"v":0.64},{"s":"d","t":37.25,"v":0.74},{"s":"d","t":37.75,"v":0.64},{"s":"d","t":38.25,"v":0.66},{"s":"d","t":38.75,"v":0.75},{"s":"d","t":39.25,"v":0.64},{"s":"d","t":39.75,"v":0.74},{"s":"d","t":40.25,"v":0.65},{"s":"d","t":40.75,"v":0.75},{"s":"d","t":41.25,"v":0.65},{"s":"d","t":41.75,"v":0.74},{"s":"d","t":42.25,"v":0.74},{"s":"d","t":42.75,"v":0.65},{"s":"d","t":43.25,"v":0.75},{"s":"d","t":43.75,"v":0.66},{"s":"d","t":44.25,"v":0.76},{"s":"d","t":44.75,"v":0.73},{"s":"d","t":45.25,"v":0.66},{"s":"d","t":45.75,"v":0.77},{"s":"d","t":46.25,"v":0.66},{"s":"d","t":46.75,"v":0.75},{"s":"d","t":47.25,"v":0.77},{"s":"d","t":47.75,"v":0.66},{"s":"d","t":48.25,"v":0.76},{"s":"d","t":48.75,"v":0.67},{"s":"d","t":49.25,"v":0.75},{"s":"d","t":49.75,"v":0.76},{"s":"d","t":50.25,"v":0.66},{"s":"d","t":50.75,"v":0.77},{"s":"d","t":51.25,"v":0.66},{"s":"d","t":51.75,"v":0.76},{"s":"d","t":52.25,"v":0.67},{"s":"d","t":52.75,"v":0.76},{"s":"d","t":53.25,"v":0.78},{"s":"d","t":53.75,"v":0.74},{"s":"d","t":54.25,"v":0.67},{"s":"d","t":54.75,"v":0.77},{"s":"d","t":55.25,"v":0.67},{"s":"d","t":55.75,"v":0.76},{"s":"d","t":56.25,"v":0.77},{"s":"d","t":56.75,"v":0.68},{"s":"d","t":57.25,"v":0.78},{"s":"d","t":57.75,"v":0.68},{"s":"d","t":58.25,"v":0.77},{"s":"d","t":58.75,"v":0.68},{"s":"d","t":59.25,"v":0.77},{"s":"d","t":59.75,"v":0.68},
{"s":"e","t":29.25,"v":0.65},{"s":"e","t":29.75,"v":0.53},{"s":"e","t":30.25,"v":0.58},{"s":"e","t":30.75,"v":0.65},{"s":"e","t":31.25,"v":0.52},{"s":"e","t":31.75,"v":0.67},{"s":"e","t":32.25,"v":0.57},{"s":"e","t":32.75,"v":0.64},{"s":"e","t":33.25,"v":0.52},{"s":"e","t":33.75,"v":0.66},{"s":"e","t":34.25,"v":0.58},{"s":"e","t":34.75,"v":0.64},{"s":"e","t":35.25,"v":0.52},{"s":"e","t":35.75,"v":0.67},{"s":"e","t":36.25,"v":0.55},{"s":"e","t":36.75,"v":0.64},{"s":"e","t":37.25,"v":0.53},{"s":"e","t":37.75,"v":0.5},{"s":"e","t":38.25,"v":0.64},{"s":"e","t":38.75,"v":0.53},{"s":"e","t":39.25,"v":0.55},{"s":"e","t":39.75,"v":0.65},{"s":"e","t":40.25,"v":0.47},{"s":"e","t":40.75,"v":0.63},{"s":"e","t":41.25,"v":0.5},{"s":"e","t":41.75,"v":0.54},{"s":"e","t":42.25,"v":0.65},{"s":"e","t":42.75,"v":0.52},{"s":"e","t":43.25,"v":0.65},{"s":"e","t":43.75,"v":0.54},{"s":"e","t":44.25,"v":0.66},{"s":"e","t":44.75,"v":0.52},{"s":"e","t":45.25,"v":0.65},{"s":"e","t":45.75,"v":0.53},{"s":"e","t":46.25,"v":0.57},{"s":"e","t":46.75,"v":0.66},{"s":"e","t":47.25,"v":0.54},{"s":"e","t":47.75,"v":0.66},{"s":"e","t":48.25,"v":0.55},{"s":"e","t":48.75,"v":0.66},{"s":"e","t":49.25,"v":0.57},{"s":"e","t":49.75,"v":0.68},{"s":"e","t":50.25,"v":0.56},{"s":"e","t":50.75,"v":0.67},{"s":"e","t":51.25,"v":0.57},{"s":"e","t":51.75,"v":0.68},{"s":"e","t":52.25,"v":0.58},{"s":"e","t":52.75,"v":0.69},{"s":"e","t":53.25,"v":0.57},{"s":"e","t":53.75,"v":0.58},{"s":"e","t":54.25,"v":0.7},{"s":"e","t":54.75,"v":0.6},{"s":"e","t":55.25,"v":0.69},{"s":"e","t":55.75,"v":0.59},{"s":"e","t":56.25,"v":0.7},{"s":"e","t":56.75,"v":0.6},{"s":"e","t":57.25,"v":0.69},{"s":"e","t":57.75,"v":0.59},{"s":"e","t":58.25,"v":0.7},{"s":"e","t":58.75,"v":0.6},{"s":"e","t":59.25,"v":0.7},{"s":"e","t":59.75,"v":0.6}
],
"nodes":[
{"x":19.36,"y":1.128},{"x":19.36,"y":0.812},{"x":19.36,"y":0.506},
{"x":29.24,"y":1.322},{"x":29.24,"y":0.992},{"x":29.24,"y":0.642},{"x":29.24,"y":0.313},
{"x":38.79,"y":1.128},{"x":38.79,"y":0.812},{"x":38.79,"y":0.506},
{"x":48.02,"y":0.812}
],
"edges":[
{"x":19.36,"y":1.128,"x2":29.24,"y2":1.322},{"x":19.36,"y":1.128,"x2":29.24,"y2":0.992},{"x":19.36,"y":1.128,"x2":29.24,"y2":0.642},{"x":19.36,"y":1.128,"x2":29.24,"y2":0.313},
{"x":19.36,"y":0.812,"x2":29.24,"y2":1.322},{"x":19.36,"y":0.812,"x2":29.24,"y2":0.992},{"x":19.36,"y":0.812,"x2":29.24,"y2":0.642},{"x":19.36,"y":0.812,"x2":29.24,"y2":0.313},
{"x":19.36,"y":0.506,"x2":29.24,"y2":1.322},{"x":19.36,"y":0.506,"x2":29.24,"y2":0.992},{"x":19.36,"y":0.506,"x2":29.24,"y2":0.642},{"x":19.36,"y":0.506,"x2":29.24,"y2":0.313},
{"x":29.24,"y":1.322,"x2":38.79,"y2":1.128},{"x":29.24,"y":1.322,"x2":38.79,"y2":0.812},{"x":29.24,"y":1.322,"x2":38.79,"y2":0.506},
{"x":29.24,"y":0.992,"x2":38.79,"y2":1.128},{"x":29.24,"y":0.992,"x2":38.79,"y2":0.812},{"x":29.24,"y":0.992,"x2":38.79,"y2":0.506},
{"x":29.24,"y":0.642,"x2":38.79,"y2":1.128},{"x":29.24,"y":0.642,"x2":38.79,"y2":0.812},{"x":29.24,"y":0.642,"x2":38.79,"y2":0.506},
{"x":29.24,"y":0.313,"x2":38.79,"y2":1.128},{"x":29.24,"y":0.313,"x2":38.79,"y2":0.812},{"x":29.24,"y":0.313,"x2":38.79,"y2":0.506},
{"x":38.79,"y":1.128,"x2":48.02,"y2":0.812},{"x":38.79,"y":0.812,"x2":48.02,"y2":0.812},{"x":38.79,"y":0.506,"x2":48.02,"y2":0.812}
],
"box":[{"x":20.07,"x2":41.09,"y":0.693,"y2":0.917}],
"toplabels":[{"x":0.76,"y":1.48,"label":"First-principles MD"}],
"annlabel":[{"x":31.05,"y":0.805,"label":"ANN training"}],
"botlabels":[{"x":0.76,"y":1.458,"label":"ANN-MD"}],
"rarrow":[{"x":10.99,"y":0.78}],
"darrow":[{"x":31.78,"y":1.549}]
},
"vconcat":[
{
 "width":314,"height":157,
 "layer":[
  {"data":{"name":"fp"},"mark":{"type":"line","strokeWidth":1},
   "encoding":{
    "x":{"field":"t","type":"quantitative","scale":{"domain":[0,60],"nice":false},"axis":{"orient":"bottom","values":[0,5,10,15,20,25,30,35,40,45,50,55,60],"labels":false,"title":null,"tickSize":-5}},
    "y":{"field":"v","type":"quantitative","scale":{"domain":[0,1.6],"nice":false},"axis":{"orient":"left","values":[0,0.25,0.5,0.75,1,1.25,1.5],"labelExpr":"datum.value % 0.5 === 0 ? format(datum.value, '') : ''","title":"Particle velocity (km/s)","tickSize":-5,"labelPadding":11,"titlePadding":6}},
    "color":{"field":"s","type":"nominal","scale":{"domain":["a","b","c","d","e"],"range":["#1a3cff","#000000","#3a9e6e","#ff9a00","#ff2a00"]},"legend":null}
   }},
  {"data":{"name":"edges"},"mark":{"type":"rule","color":"black","strokeWidth":1},
   "encoding":{
    "x":{"field":"x","type":"quantitative","scale":{"domain":[0,60],"nice":false},"axis":{"orient":"top","values":[0,5,10,15,20,25,30,35,40,45,50,55,60],"labels":false,"title":null,"tickSize":-5}},
    "y":{"field":"y","type":"quantitative","scale":{"domain":[0,1.6],"nice":false},"axis":{"orient":"right","values":[0,0.25,0.5,0.75,1,1.25,1.5],"labels":false,"title":null,"tickSize":-5}},
    "x2":{"field":"x2"},"y2":{"field":"y2"}
   }},
  {"data":{"name":"nodes"},"mark":{"type":"circle","size":430,"fill":"#8a9199","stroke":"black","strokeWidth":1.5,"opacity":1},
   "encoding":{
    "x":{"field":"x","type":"quantitative","scale":{"domain":[0,60],"nice":false},"axis":null},
    "y":{"field":"y","type":"quantitative","scale":{"domain":[0,1.6],"nice":false},"axis":null}
   }},
  {"data":{"name":"edges"},
   "transform":[
    {"calculate":"(datum.x2-datum.x)*314/60","as":"dx"},
    {"calculate":"(datum.y2-datum.y)*157/1.6","as":"dy"},
    {"calculate":"sqrt(datum.dx*datum.dx+datum.dy*datum.dy)","as":"L"},
    {"calculate":"datum.x2-16.5*(datum.x2-datum.x)/datum.L","as":"hx"},
    {"calculate":"datum.y2-16.5*(datum.y2-datum.y)/datum.L","as":"hy"},
    {"calculate":"atan2(-datum.dy,datum.dx)*180/PI","as":"ang"}
   ],
   "mark":{"type":"point","shape":"M-1,-0.75L1,0L-1,0.75Z","filled":true,"color":"black","size":64,"opacity":1},
   "encoding":{
    "x":{"field":"hx","type":"quantitative","scale":{"domain":[0,60],"nice":false},"axis":null},
    "y":{"field":"hy","type":"quantitative","scale":{"domain":[0,1.6],"nice":false},"axis":null},
    "angle":{"field":"ang","type":"quantitative","scale":null}
   }},
  {"data":{"name":"rarrow"},"mark":{"type":"point","shape":"M-0.84,-0.55L0.05,-0.55L0.05,-1L0.84,0L0.05,1L0.05,0.55L-0.84,0.55Z","filled":true,"color":"#8a9199","size":2401,"opacity":1},
   "encoding":{
    "x":{"field":"x","type":"quantitative","scale":{"domain":[0,60],"nice":false},"axis":null},
    "y":{"field":"y","type":"quantitative","scale":{"domain":[0,1.6],"nice":false},"axis":null}
   }},
  {"data":{"name":"box"},"mark":{"type":"rect","fill":"white","opacity":0.55,"cornerRadius":6},
   "encoding":{
    "x":{"field":"x","type":"quantitative","scale":{"domain":[0,60],"nice":false},"axis":null},
    "x2":{"field":"x2"},
    "y":{"field":"y","type":"quantitative","scale":{"domain":[0,1.6],"nice":false},"axis":null},
    "y2":{"field":"y2"}
   }},
  {"data":{"name":"annlabel"},"mark":{"type":"text","font":"Liberation Sans","fontWeight":"bold","fontSize":16,"color":"#f0262b","align":"center","baseline":"middle"},
   "encoding":{
    "x":{"field":"x","type":"quantitative","scale":{"domain":[0,60],"nice":false},"axis":null},
    "y":{"field":"y","type":"quantitative","scale":{"domain":[0,1.6],"nice":false},"axis":null},
    "text":{"field":"label"}
   }},
  {"data":{"name":"toplabels"},"mark":{"type":"text","font":"Liberation Sans","fontWeight":"bold","fontSize":14,"color":"black","align":"left","baseline":"middle"},
   "encoding":{
    "x":{"field":"x","type":"quantitative","scale":{"domain":[0,60],"nice":false},"axis":null},
    "y":{"field":"y","type":"quantitative","scale":{"domain":[0,1.6],"nice":false},"axis":null},
    "text":{"field":"label"}
   }}
 ],
 "resolve":{"axis":{"x":"independent","y":"independent"}}
},
{
 "width":314,"height":157,
 "layer":[
  {"data":{"name":"ann"},"mark":{"type":"line","strokeWidth":1},
   "encoding":{
    "x":{"field":"t","type":"quantitative","scale":{"domain":[0,60],"nice":false},"axis":{"orient":"bottom","values":[0,5,10,15,20,25,30,35,40,45,50,55,60],"labelExpr":"datum.value % 10 === 0 ? format(datum.value, 'd') : ''","title":"Time (ps)","tickSize":-5,"labelPadding":11,"titlePadding":1}},
    "y":{"field":"v","type":"quantitative","scale":{"domain":[0,1.6],"nice":false},"axis":{"orient":"left","values":[0,0.25,0.5,0.75,1,1.25,1.5],"labelExpr":"datum.value % 0.5 === 0 ? format(datum.value, '') : ''","title":"Particle velocity (km/s)","tickSize":-5,"labelPadding":11,"titlePadding":6}},
    "color":{"field":"s","type":"nominal","scale":{"domain":["a","b","c","d","e"],"range":["#1a3cff","#000000","#3a9e6e","#ff9a00","#ff2a00"]},"legend":null}
   }},
  {"data":{"name":"darrow"},"mark":{"type":"point","shape":"M-0.48,-0.84L0.48,-0.84L0.48,0.04L1,0.04L0,0.84L-1,0.04L-0.48,0.04Z","filled":true,"color":"#8a9199","size":2500,"opacity":1},
   "encoding":{
    "x":{"field":"x","type":"quantitative","scale":{"domain":[0,60],"nice":false},"axis":{"orient":"top","values":[0,5,10,15,20,25,30,35,40,45,50,55,60],"labels":false,"title":null,"tickSize":-5}},
    "y":{"field":"y","type":"quantitative","scale":{"domain":[0,1.6],"nice":false},"axis":{"orient":"right","values":[0,0.25,0.5,0.75,1,1.25,1.5],"labels":false,"title":null,"tickSize":-5}}
   }},
  {"data":{"name":"botlabels"},"mark":{"type":"text","font":"Liberation Sans","fontWeight":"bold","fontSize":14,"color":"black","align":"left","baseline":"middle"},
   "encoding":{
    "x":{"field":"x","type":"quantitative","scale":{"domain":[0,60],"nice":false},"axis":null},
    "y":{"field":"y","type":"quantitative","scale":{"domain":[0,1.6],"nice":false},"axis":null},
    "text":{"field":"label"}
   }}
 ],
 "resolve":{"axis":{"x":"independent","y":"independent"}}
}
]
}
